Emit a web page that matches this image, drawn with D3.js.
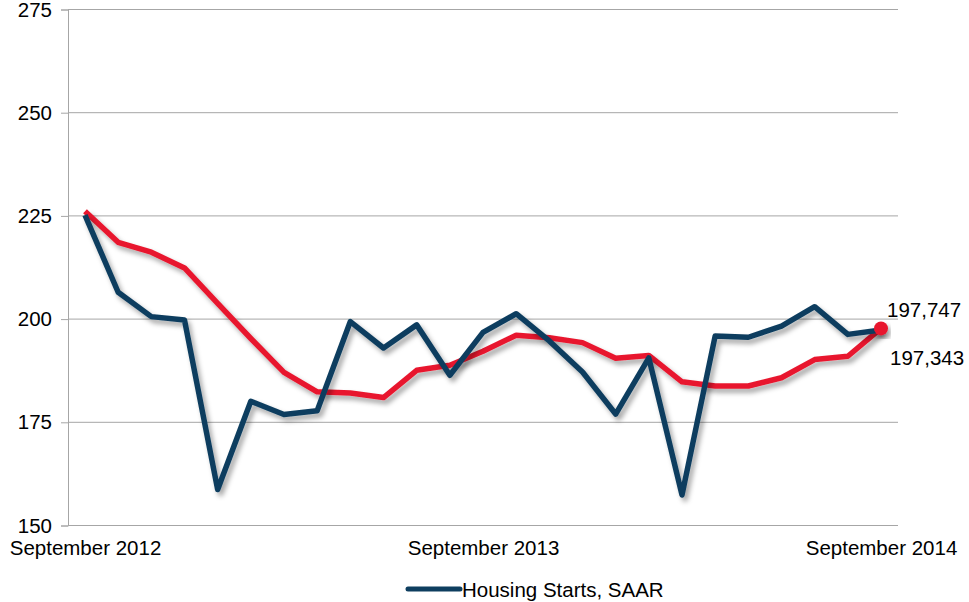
<!DOCTYPE html>
<html lang="en">
<head>
    <meta charset="UTF-8">
    <script src="https://cdnjs.cloudflare.com/ajax/libs/d3/7.8.5/d3.min.js"></script>
    <style>
        body { margin: 0; background: #fff; }
        text { font-family: "Liberation Sans", Arial, sans-serif; fill: #000; }
    </style>
</head>
<body>
    <svg id="chart" width="969" height="602"></svg>
    <script>
        // Sep 2012 .. Sep 2014, monthly
        let months = ["Sep 2012", "Oct 2012", "Nov 2012", "Dec 2012", "Jan 2013", "Feb 2013", "Mar 2013",
            "Apr 2013", "May 2013", "Jun 2013", "Jul 2013", "Aug 2013", "Sep 2013", "Oct 2013", "Nov 2013",
            "Dec 2013", "Jan 2014", "Feb 2014", "Mar 2014", "Apr 2014", "May 2014", "Jun 2014", "Jul 2014",
            "Aug 2014", "Sep 2014"];
        let housingStarts = [225.2, 206.5, 200.6, 199.8, 158.7, 180.1, 176.9, 177.8, 199.4, 193.0, 198.6,
            186.4, 196.8, 201.3, 194.7, 187.2, 177.0, 190.6, 157.4, 195.9, 195.6, 198.3, 203.0, 196.3, 197.343];
        let movingAvg = [226.1, 218.6, 216.2, 212.4, 203.8, 195.3, 187.1, 182.4, 182.1, 181.0, 187.6,
            188.8, 192.2, 196.1, 195.5, 194.3, 190.5, 191.2, 184.8, 183.8, 183.8, 185.8, 190.2, 191.0, 197.747];
        let yTicks = [150, 175, 200, 225, 250, 275];
        let xTickLabels = {"Sep 2012": "September 2012", "Sep 2013": "September 2013", "Sep 2014": "September 2014"};
        let seriesName = "Housing Starts, SAAR";

        const blue = "#0e3e5f", red = "#e8192f";
        const plotLeft = 68, plotRight = 898, plotTop = 9.5, plotBottom = 525.5;

        const svg = d3.select("#chart");

        const filter = svg.append("defs").append("filter")
            .attr("id", "shadow").attr("x", "-10%").attr("y", "-10%").attr("width", "130%").attr("height", "130%");
        filter.append("feDropShadow")
            .attr("dx", 3).attr("dy", 4).attr("stdDeviation", 2.5)
            .attr("flood-color", "#000").attr("flood-opacity", 0.35);

        let x = d3.scalePoint().domain(months).range([85, 881]);
        let y = d3.scaleLinear().domain([150, 275]).range([plotBottom, plotTop]);

        // gridlines + y axis
        let yAxis = d3.axisLeft(y).tickValues(yTicks).tickSize(7).tickPadding(9).tickFormat(d3.format("d"));
        let yG = svg.append("g").attr("transform", `translate(${plotLeft},0)`).call(yAxis);
        yG.select(".domain").attr("stroke", "#a6a6a6");
        yG.selectAll(".tick line").attr("stroke", "#a6a6a6");
        yG.selectAll(".tick text").style("font-size", "20.5px")
            .style("font-family", "'Liberation Sans', Arial, sans-serif");

        svg.append("g").selectAll("line").data(yTicks).join("line")
            .attr("x1", plotLeft).attr("x2", plotRight)
            .attr("y1", d => y(d)).attr("y2", d => y(d))
            .attr("stroke", "#a6a6a6").attr("stroke-width", 1);

        // x axis
        let xAxis = d3.axisBottom(x).tickValues(Object.keys(xTickLabels)).tickSize(0).tickPadding(15)
            .tickFormat(d => xTickLabels[d]);
        let xG = svg.append("g").attr("transform", `translate(0,${plotBottom})`).call(xAxis);
        xG.select(".domain").remove();
        xG.selectAll(".tick text").style("font-size", "20.5px")
            .style("font-family", "'Liberation Sans', Arial, sans-serif");

        let line = d3.line().x((d, i) => x(months[i])).y(d => y(d));

        svg.append("path").datum(movingAvg)
            .attr("d", line).attr("fill", "none").attr("stroke", red)
            .attr("stroke-width", 5.5).attr("stroke-linejoin", "round").attr("filter", "url(#shadow)");

        svg.append("path").datum(housingStarts)
            .attr("d", line).attr("fill", "none").attr("stroke", blue)
            .attr("stroke-width", 5.5).attr("stroke-linejoin", "round").attr("filter", "url(#shadow)");

        let last = months.length - 1;
        svg.append("circle")
            .attr("cx", x(months[last])).attr("cy", y(movingAvg[last])).attr("r", 7)
            .attr("fill", red).attr("filter", "url(#shadow)");

        let fmt = d3.format(",.0f");
        svg.append("text")
            .attr("x", x(months[last]) + 6).attr("y", y(movingAvg[last]) - 11)
            .style("font-size", "20.5px").text(fmt(movingAvg[last] * 1000));
        svg.append("text")
            .attr("x", x(months[last]) + 9).attr("y", y(housingStarts[last]) + 35)
            .style("font-size", "20.5px").text(fmt(housingStarts[last] * 1000));

        // legend
        let lg = svg.append("g").attr("transform", "translate(406,589)");
        lg.append("line").attr("x1", 2).attr("x2", 54).attr("y1", 0).attr("y2", 0)
            .attr("stroke", blue).attr("stroke-width", 5).attr("stroke-linecap", "round");
        lg.append("text").attr("x", 56).attr("y", 7.5).style("font-size", "20.5px").text(seriesName);
    </script>
</body>
</html>
